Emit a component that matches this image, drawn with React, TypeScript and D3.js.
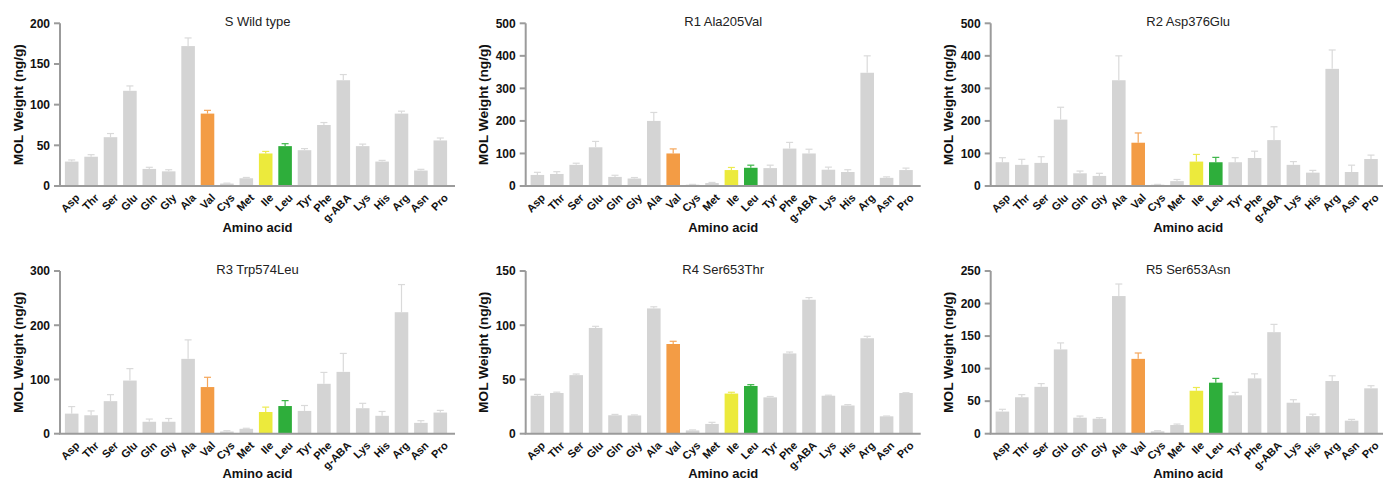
import React from "react";
import * as d3 from "d3";

const categories = ["Asp","Thr","Ser","Glu","Gln","Gly","Ala","Val","Cys","Met","Ile","Leu","Tyr","Phe","g-ABA","Lys","His","Arg","Asn","Pro"];

const titles = ["S Wild type","R1 Ala205Val","R2 Asp376Glu","R3 Trp574Leu","R4 Ser653Thr","R5 Ser653Asn"];
const yMaxes = [200, 500, 500, 300, 150, 250];
const yTickSteps = [50, 100, 100, 100, 50, 50];

const wildValues = [30,36,60,117,21,18,172,89,3,9.5,40,49,44,75,130,49,30,89,19,56];
const wildErrors = [2,2.5,4.5,6,2,2,10,4,0.5,1,2.5,3,2,3,7,2.5,1.5,3,1.5,3];

const r1Values = [34,37,65,119,28,23,200,100,4,9,49,56,55,115,100,50,43,348,25,49];
const r1Errors = [8,7,5,18,5,3,26,14,1,2,8,8,9,19,13,8,7,52,3,6];

const r2Values = [73,65,71,204,39,31,325,133,4,15,75,73,73,86,141,65,41,360,43,83];
const r2Errors = [14,17,19,38,7,8,75,30,1,5,22,15,14,21,41,10,7,58,21,12];

const r3Values = [37,34,60,98,22,22,138,86,4,9,40,51,42,92,114,47,33,224,20,39];
const r3Errors = [13,8,12,22,5,6,35,18,1.5,1,9,10,10,21,34,9,8,51,4,4];

const r4Values = [35,37.5,54,97.5,17,16.8,115.5,82.7,3,9,37,44,33.5,74,123.5,35,26,88,16,37.5];
const r4Errors = [1.2,0.8,1,1.5,0.8,0.5,1.5,2.5,0.5,1.5,1.2,1.2,0.8,1.3,2,0.5,0.8,1.8,0.3,0.3];

const r5Values = [34,56,72,129.5,24.6,23,211.5,115,3.6,13.3,66,78.4,59,85,156,47.6,27,81,20,69.7];
const r5Errors = [3.5,4,5,10,2.5,1.6,18.5,9,1,1.5,5,6.6,4.5,7,12,4.6,3,8,2,4];

const allValues = [wildValues, r1Values, r2Values, r3Values, r4Values, r5Values];
const allErrors = [wildErrors, r1Errors, r2Errors, r3Errors, r4Errors, r5Errors];

const highlight: Record<string, string> = { Val: "#f39c45", Ile: "#ecea3c", Leu: "#2eae3b" };
const errHighlight: Record<string, string> = { Val: "#f5a65a", Ile: "#ecea50", Leu: "#3cb548" };
const barGray = "#d4d4d4";
const errGray = "#dadada";
const axisColor = "#9b9b9b";
const FONT = "'Liberation Sans', Arial, Helvetica, sans-serif";

const colLeft = [60, 525.7, 990.7];
const rowTop = [23.3, 271];
const plotH = 162.7;
const step = 19.4;

function Panel({ idx }: { idx: number }) {
  const col = idx % 3;
  const row = Math.floor(idx / 3);
  const x0 = colLeft[col];
  const top = rowTop[row];
  const bottom = top + plotH;
  const x = d3.scaleBand<string>().domain(categories).range([x0 + 2, x0 + 2 + step * categories.length]).paddingInner(0.3).paddingOuter(0.15);
  const y = d3.scaleLinear().domain([0, yMaxes[idx]]).range([bottom, top]);
  const ticks = d3.range(0, yMaxes[idx] + 0.001, yTickSteps[idx]);
  const vals = allValues[idx];
  const errs = allErrors[idx];
  const xEnd = x0 + 2 + step * categories.length + 5;
  const cx = (x0 + xEnd) / 2;
  const bw = x.bandwidth();
  const xTitleY = row === 0 ? bottom + 46 : 478;
  return (
    <g>
      <text x={cx} y={top + 2.7} textAnchor="middle" fontFamily={FONT} fontSize={13} fill="#222">{titles[idx]}</text>
      {categories.map((c, i) => {
        const bx = x(c)!;
        const col2 = highlight[c] || barGray;
        const ecol = errHighlight[c] || errGray;
        const xc = bx + bw / 2;
        return (
          <g key={c}>
            <rect x={bx} y={y(vals[i])} width={bw} height={bottom - y(vals[i])} fill={col2} />
            <line x1={xc} x2={xc} y1={y(vals[i])} y2={y(vals[i] + errs[i])} stroke={ecol} strokeWidth={1.2} />
            <line x1={xc - 3.5} x2={xc + 3.5} y1={y(vals[i] + errs[i])} y2={y(vals[i] + errs[i])} stroke={ecol} strokeWidth={1.2} />
          </g>
        );
      })}
      <line x1={x0} x2={x0} y1={top} y2={bottom} stroke={axisColor} strokeWidth={2} />
      <line x1={x0 - 1} x2={xEnd} y1={bottom} y2={bottom} stroke={axisColor} strokeWidth={2} />
      {ticks.map((t) => (
        <g key={t}>
          <line x1={x0 - 6} x2={x0} y1={y(t)} y2={y(t)} stroke={axisColor} strokeWidth={2} />
          <text x={x0 - 10} y={y(t)} dy="0.36em" textAnchor="end" fontFamily={FONT} fontWeight="bold" fontSize={12} fill="#111">{t}</text>
        </g>
      ))}
      {categories.map((c) => {
        const xc = x(c)! + bw / 2;
        return (
          <text key={c} transform={`translate(${xc + 3},${bottom + 7}) rotate(-45)`} textAnchor="end" dy="0.7em" fontFamily={FONT} fontWeight="bold" fontSize={11} fill="#111">{c}</text>
        );
      })}
      <text transform={`translate(${x0 - 42},${(top + bottom) / 2}) rotate(-90)`} textAnchor="middle" dy="0.35em" fontFamily={FONT} fontWeight="bold" fontSize={13.7} fill="#111">MOL Weight (ng/g)</text>
      <text x={cx} y={xTitleY} textAnchor="middle" fontFamily={FONT} fontWeight="bold" fontSize={13} fill="#111">Amino acid</text>
    </g>
  );
}

export default function App() {
  return (
    <svg width={1383} height={480} style={{ position: "absolute", left: 0, top: 0, background: "#fff" }}>
      <rect width={1383} height={480} fill="#fff" />
      {[0, 1, 2, 3, 4, 5].map((i) => <Panel key={i} idx={i} />)}
    </svg>
  );
}
